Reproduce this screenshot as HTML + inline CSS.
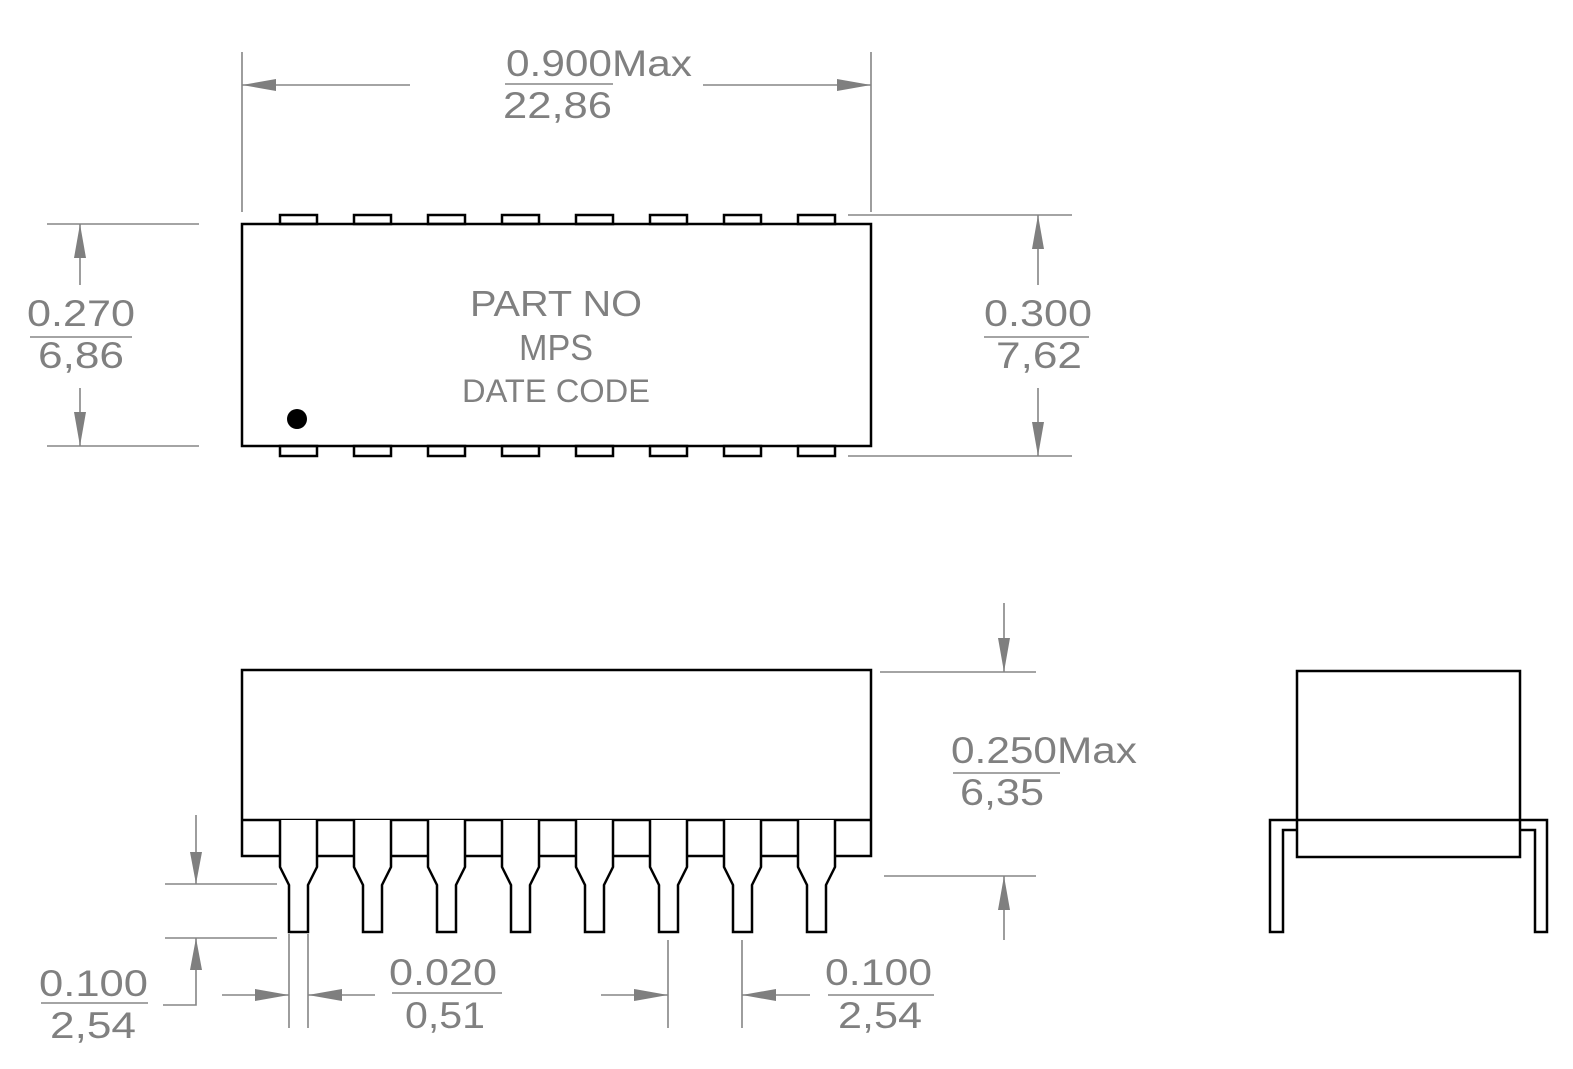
<!DOCTYPE html>
<html><head><meta charset="utf-8"><style>html,body{margin:0;padding:0;background:#fff}svg{display:block}</style></head><body>
<svg width="1573" height="1069" viewBox="0 0 1573 1069" xmlns="http://www.w3.org/2000/svg">
<defs>
<style>
.b{fill:none;stroke:#000;stroke-width:2.5}
.g{fill:none;stroke:#858585;stroke-width:1.6}
.a{fill:#7f7f7f;stroke:none}
.t{fill:#808080;font-family:"Liberation Sans",sans-serif;font-size:37px}
.c{fill:#808080;font-family:"Liberation Sans",sans-serif}
</style>
</defs>

<!-- TOP VIEW -->
<rect class="b" x="242" y="224" width="629" height="222"/>
<g class="b">
<rect x="280" y="215" width="37" height="9"/><rect x="354" y="215" width="37" height="9"/><rect x="428" y="215" width="37" height="9"/><rect x="502" y="215" width="37" height="9"/><rect x="576" y="215" width="37" height="9"/><rect x="650" y="215" width="37" height="9"/><rect x="724" y="215" width="37" height="9"/><rect x="798" y="215" width="37" height="9"/>
<rect x="280" y="446" width="37" height="10"/><rect x="354" y="446" width="37" height="10"/><rect x="428" y="446" width="37" height="10"/><rect x="502" y="446" width="37" height="10"/><rect x="576" y="446" width="37" height="10"/><rect x="650" y="446" width="37" height="10"/><rect x="724" y="446" width="37" height="10"/><rect x="798" y="446" width="37" height="10"/>
</g>
<ellipse cx="297" cy="419" rx="10" ry="10" fill="#000"/>
<text class="c" x="556" y="316" font-size="36" text-anchor="middle" textLength="172" lengthAdjust="spacingAndGlyphs">PART NO</text>
<text class="c" x="556" y="360" font-size="36" text-anchor="middle" textLength="74" lengthAdjust="spacingAndGlyphs">MPS</text>
<text class="c" x="556" y="402" font-size="32" text-anchor="middle" textLength="188" lengthAdjust="spacingAndGlyphs">DATE CODE</text>

<!-- top dim -->
<path class="g" d="M242 52V212M871 52V212M242 85H410M703 85H871"/>
<path class="a" d="M242 85L276 79L276 91Z M871 85L837 79L837 91Z"/>
<text class="t" x="506" y="76" textLength="186" lengthAdjust="spacingAndGlyphs">0.900Max</text>
<path class="g" d="M505 84H613"/>
<text class="t" x="503" y="118" textLength="109" lengthAdjust="spacingAndGlyphs">22,86</text>

<!-- left dim -->
<path class="g" d="M47 224H199M47 446H199M80 224V285M80 388V446"/>
<path class="a" d="M80 224L74 258L86 258Z M80 446L74 412L86 412Z"/>
<text class="t" x="27" y="326" textLength="108" lengthAdjust="spacingAndGlyphs">0.270</text>
<path class="g" d="M30 337H132"/>
<text class="t" x="38" y="368" textLength="86" lengthAdjust="spacingAndGlyphs">6,86</text>

<!-- right dim -->
<path class="g" d="M848 215H1072M848 456H1072M1038 215V285M1038 388V456"/>
<path class="a" d="M1038 215L1032 249L1044 249Z M1038 456L1032 422L1044 422Z"/>
<text class="t" x="984" y="326" textLength="108" lengthAdjust="spacingAndGlyphs">0.300</text>
<path class="g" d="M984 337H1089"/>
<text class="t" x="996" y="368" textLength="86" lengthAdjust="spacingAndGlyphs">7,62</text>

<!-- SIDE VIEW -->
<rect class="b" x="242" y="670" width="629" height="186"/>
<path class="b" d="M242 820H871"/>
<g fill="#fff" stroke="#000" stroke-width="2.5" stroke-linejoin="miter">
<path d="M280 820V867L289 885V932H308V885L317 867V820"/>
<path d="M354 820V867L363 885V932H382V885L391 867V820"/>
<path d="M428 820V867L437 885V932H456V885L465 867V820"/>
<path d="M502 820V867L511 885V932H530V885L539 867V820"/>
<path d="M576 820V867L585 885V932H604V885L613 867V820"/>
<path d="M650 820V867L659 885V932H678V885L687 867V820"/>
<path d="M724 820V867L733 885V932H752V885L761 867V820"/>
<path d="M798 820V867L807 885V932H826V885L835 867V820"/>
</g>

<!-- height dim -->
<path class="g" d="M880 672H1036M884 876H1036M1004 603V672M1004 876V940"/>
<path class="a" d="M1004 672L998 638L1010 638Z M1004 876L998 910L1010 910Z"/>
<text class="t" x="951" y="763" textLength="186" lengthAdjust="spacingAndGlyphs">0.250Max</text>
<path class="g" d="M953 773H1060"/>
<text class="t" x="960" y="805" textLength="84" lengthAdjust="spacingAndGlyphs">6,35</text>

<!-- lead length dim -->
<path class="g" d="M165 884H277M165 938H277M196 815V884M196 938V1005H163"/>
<path class="a" d="M196 884L190 852L202 852Z M196 938L190 970L202 970Z"/>
<text class="t" x="39" y="996" textLength="109" lengthAdjust="spacingAndGlyphs">0.100</text>
<path class="g" d="M41 1003H148"/>
<text class="t" x="50" y="1038" textLength="86" lengthAdjust="spacingAndGlyphs">2,54</text>

<!-- pin width dim -->
<path class="g" d="M289 934V1028M308 934V1028M222 995H289M308 995H375"/>
<path class="a" d="M289 995L255 989L255 1001Z M308 995L342 989L342 1001Z"/>
<text class="t" x="389" y="985" textLength="108" lengthAdjust="spacingAndGlyphs">0.020</text>
<path class="g" d="M392 993H502"/>
<text class="t" x="405" y="1028" textLength="80" lengthAdjust="spacingAndGlyphs">0,51</text>

<!-- pitch dim -->
<path class="g" d="M668 940V1028M742 940V1028M601 995H668M742 995H810"/>
<path class="a" d="M668 995L634 989L634 1001Z M742 995L776 989L776 1001Z"/>
<text class="t" x="825" y="985" textLength="107" lengthAdjust="spacingAndGlyphs">0.100</text>
<path class="g" d="M828 995H934"/>
<text class="t" x="838" y="1028" textLength="84" lengthAdjust="spacingAndGlyphs">2,54</text>

<!-- END VIEW -->
<rect class="b" x="1297" y="671" width="223" height="186"/>
<path class="b" d="M1297 830H1283V932H1270V820H1547V932H1535V830H1520"/>
</svg>
</body></html>
